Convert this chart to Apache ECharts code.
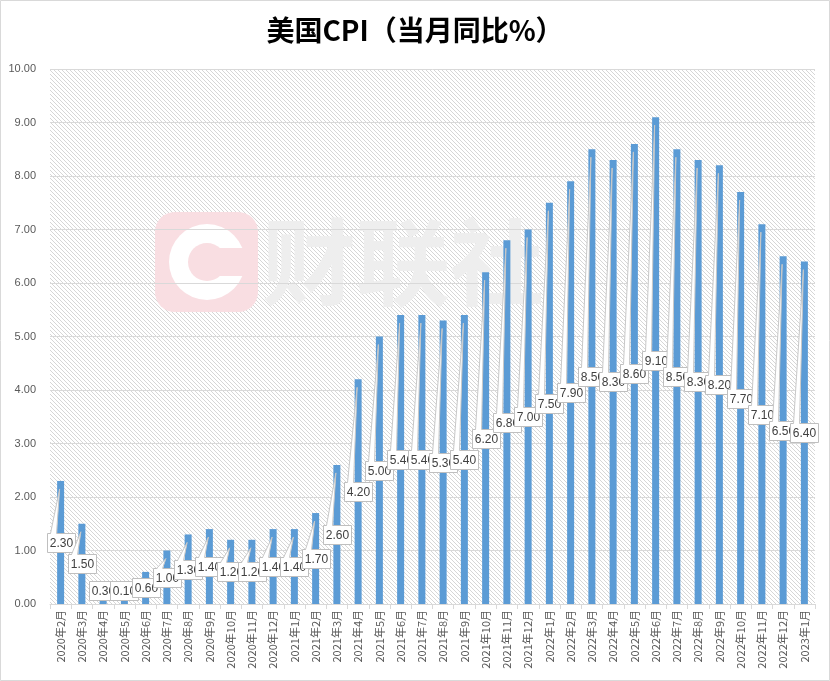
<!DOCTYPE html>
<html>
<head>
<meta charset="utf-8">
<script src="https://cdn.jsdelivr.net/npm/echarts@6/dist/echarts.min.js"></script>
<style>
html,body{margin:0;padding:0;background:#fff;}
#main{width:830px;height:681px;}
</style>
</head>
<body>
<div id="main"></div>
<script>
const titleText = '美国CPI（当月同比%）';
const categories = ['2020年2月','2020年3月','2020年4月','2020年5月','2020年6月','2020年7月','2020年8月','2020年9月','2020年10月','2020年11月','2020年12月',
  '2021年1月','2021年2月','2021年3月','2021年4月','2021年5月','2021年6月','2021年7月','2021年8月','2021年9月','2021年10月','2021年11月','2021年12月',
  '2022年1月','2022年2月','2022年3月','2022年4月','2022年5月','2022年6月','2022年7月','2022年8月','2022年9月','2022年10月','2022年11月','2022年12月',
  '2023年1月'];
const cpiValues = [2.3,1.5,0.3,0.1,0.6,1.0,1.3,1.4,1.2,1.2,1.4,
  1.4,1.7,2.6,4.2,5.0,5.4,5.4,5.3,5.4,6.2,6.8,7.0,
  7.5,7.9,8.5,8.3,8.6,9.1,8.5,8.3,8.2,7.7,7.1,6.5,
  6.4];
const yTicks = {min: 0, max: 10, interval: 1};

// hatch pattern
const pc = document.createElement('canvas');
pc.width = 4; pc.height = 4;
const pctx = pc.getContext('2d');
pctx.fillStyle = '#d6d6d6';
for (let i = 0; i < 4; i++) pctx.fillRect(i, i, 1, 1);

const chart = echarts.init(document.getElementById('main'), null, {renderer: 'canvas'});

const labelData = cpiValues.map((v, i) => [i, v]);
const pink = '#f9dee2';

const option = {
  animation: false,
  backgroundColor: '#fff',
  title: {
    text: titleText,
    left: 'center',
    top: 16,
    padding: 0,
    textStyle: {fontFamily: '"Noto Sans CJK SC"', fontSize: 28, fontWeight: 'bold', color: '#000'}
  },
  graphic: [
    {type: 'rect', z: -10, shape: {x: 0.5, y: 0.5, width: 829, height: 680}, style: {fill: null, stroke: '#d9d9d9', lineWidth: 1}},
    {type: 'group', z: -10, children: [
      {type: 'rect', shape: {x: 155, y: 212, width: 103, height: 100, r: 20}, style: {fill: pink}},
      {type: 'circle', shape: {cx: 207, cy: 262, r: 38}, style: {fill: '#fff'}},
      {type: 'circle', shape: {cx: 207, cy: 262, r: 19}, style: {fill: pink}},
      {type: 'rect', shape: {x: 214, y: 248, width: 40, height: 28}, style: {fill: pink}},
      {type: 'text', style: {text: '财联社', x: 262, y: 262, verticalAlign: 'middle', font: 'bold 94px "Noto Sans CJK SC"', fill: '#eeeeee'}}
    ]}
  ],
  grid: {
    left: 50, right: 15, top: 69, bottom: 77,
    show: true,
    borderWidth: 0,
    backgroundColor: {image: pc, repeat: 'repeat'}
  },
  xAxis: {
    type: 'category',
    data: categories,
    boundaryGap: true,
    axisLine: {lineStyle: {color: '#d9d9d9'}},
    axisTick: {show: true, length: 5, lineStyle: {color: '#d9d9d9'}},
    axisLabel: {interval: 0, rotate: 90, fontSize: 11, color: '#595959', margin: 6, fontFamily: '"Noto Sans CJK SC"'}
  },
  yAxis: {
    type: 'value',
    min: yTicks.min, max: yTicks.max, interval: yTicks.interval,
    axisLine: {show: false},
    axisTick: {show: false},
    axisLabel: {formatter: v => v.toFixed(2), fontSize: 11, color: '#595959', margin: 14, fontFamily: '"Liberation Sans"'},
    splitLine: {lineStyle: {color: '#d9d9d9'}}
  },
  series: [
    {
      type: 'bar',
      data: cpiValues,
      barWidth: 7,
      itemStyle: {color: '#5b9bd5'},
      z: 2
    },
    {
      type: 'custom',
      data: labelData,
      z: 3,
      renderItem: function (params, api) {
        const idx = api.value(0);
        const v = api.value(1);
        const top = api.coord([idx, v]);
        const mid = api.coord([idx, v / 2]);
        const base = api.coord([idx, 0]);
        const x = top[0];
        const w = 28, h = 19;
        let cy = Math.min(mid[1], base[1] - h / 2 - 4);
        const bx = Math.round(x - w / 2) + 0.5;
        const by = Math.round(cy - h / 2) + 0.5;
        const children = [
          {type: 'rect', shape: {x: bx, y: by, width: w, height: h}, style: {fill: '#fff', stroke: '#bfbfbf', lineWidth: 1}}
        ];
        const tipY = top[1] + 8;
        if (tipY < by - 3) {
          const p1 = [bx + 3, by + 1];
          const p2 = [bx + 9, by + 1];
          const tip = [x - 1, tipY];
          children.push({type: 'polygon', shape: {points: [p1, tip, p2]}, style: {fill: '#fff'}});
          children.push({type: 'polyline', shape: {points: [[p1[0], by], tip, [p2[0], by]]}, style: {fill: null, stroke: '#c8c8c8', lineWidth: 1}});
        }
        children.push({type: 'text', style: {text: v.toFixed(2), x: bx + w / 2, y: by + h / 2 + 0.5, align: 'center', verticalAlign: 'middle', font: '12px "Liberation Sans"', fill: '#404040'}});
        return {type: 'group', children: children};
      }
    }
  ]
};
chart.setOption(option);
</script>
</body>
</html>
